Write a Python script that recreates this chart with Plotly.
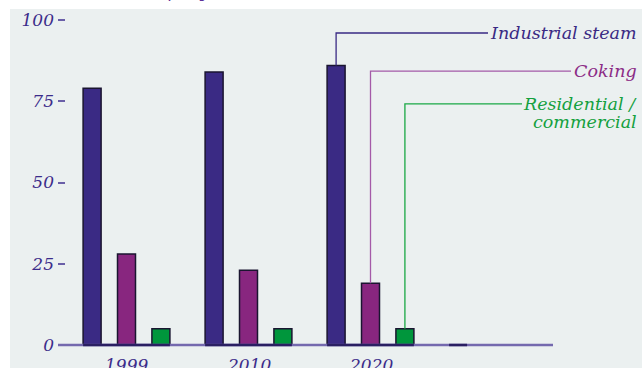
import plotly.graph_objects as go

# Coal consumption by end use (million short tons)
years = ["1999", "2010", "2020", ""]
industrial_steam = [79, 84, 86, 0]
coking = [28, 23, 19, None]
residential_commercial = [5, 5, 5, None]

series_names = ["Industrial steam", "Coking", "Residential /<br>commercial"]
series_values = [industrial_steam, coking, residential_commercial]
bar_colors = ["#3a2a84", "#88267f", "#00963c"]
text_colors = ["#3a2a84", "#8b2c86", "#14a03e"]
leader_colors = ["#3a2a84", "#a45aa8", "#1aa845"]

FONT = "DejaVu Serif"
AXIS_PURPLE = "#3b2c8a"
BG = "#ebf0f0"

W, H = 642, 368
L, R, T, B = 58, 0, 10, 10
x_range = [-0.5615, 4.2254]
y_range = [-4, 103.08]

# grouped-bar geometry (in category units)
bargap = 0.154
bargroupgap = 0.477
slot = (1 - bargap) / 3
half_bar = slot * (1 - bargroupgap) / 2

def bar_center(group, series):
    return group + (series - 1) * slot

fig = go.Figure()
for k, (name, vals) in enumerate(zip(series_names, series_values)):
    fig.add_trace(go.Bar(
        x=list(range(len(years))), y=vals, name=name,
        marker=dict(color=bar_colors[k], line=dict(color="#1a1530", width=1.5)),
        showlegend=False, hoverinfo="skip",
    ))

shapes = []
# background panel
shapes.append(dict(type="rect", xref="paper", yref="paper",
                   x0=(10 - L) / (W - L - R), x1=1.0,
                   y0=-0.05, y1=(H - B - 9) / (H - T - B),
                   fillcolor=BG, line=dict(width=0), layer="below"))
# baseline
axis_end = (553 - 126.5) / 122
shapes.append(dict(type="line", xref="x", yref="y", x0=x_range[0], x1=axis_end,
                   y0=0, y1=0, line=dict(color="#7469ae", width=2.5)))
# darker baseline under each group's bars
for g in range(len(years)):
    present = [k for k in range(3) if series_values[k][g] is not None]
    x0 = bar_center(g, present[0]) - half_bar
    x1 = bar_center(g, present[-1]) + half_bar
    shapes.append(dict(type="line", xref="x", yref="y", x0=x0, x1=x1,
                       y0=0, y1=0, line=dict(color="#2a1f62", width=2.5)))

# leader lines from the 2020 bars to the series labels
label_levels = [96.0, 84.3, 74.2]
line_ends = [(488 - 126.5) / 122, (571 - 126.5) / 122, (522 - 126.5) / 122]
g2020 = years.index("2020")
annotations = []
for k in range(3):
    xc = bar_center(g2020, k)
    top = series_values[k][g2020]
    lvl = label_levels[k]
    shapes.append(dict(type="path", xref="x", yref="y",
                       path=f"M {xc},{top} L {xc},{lvl} L {line_ends[k]},{lvl}",
                       line=dict(color=leader_colors[k], width=1.3)))

label_lines = [["Industrial steam"], ["Coking"], ["Residential /", "commercial"]]
for k in range(3):
    for j, txt in enumerate(label_lines[k]):
        annotations.append(dict(
            text=txt, xref="paper", yref="y", x=1.0, xshift=-3,
            y=label_levels[k], yshift=-18 * j, xanchor="right", yanchor="middle",
            showarrow=False,
            font=dict(family=FONT, size=17.5, color=text_colors[k], style="italic"),
        ))

# year labels under the middle bar of each group
for g, yr in enumerate(years):
    if yr:
        annotations.append(dict(
            text=yr, xref="x", yref="y", x=g, y=0, yshift=-20, xanchor="center",
            yanchor="middle", showarrow=False,
            font=dict(family=FONT, size=17, color=AXIS_PURPLE, style="italic"),
        ))

# units title at the top
annotations.append(dict(
    text="(million short tons per year)", xref="paper", yref="paper",
    x=(12 - L) / (W - L - R), y=(H - B - 8) / (H - T - B), yshift=5,
    xanchor="left", yanchor="bottom", showarrow=False,
    font=dict(family=FONT, size=16, color="#5b2f96", style="italic"),
))

fig.update_layout(
    width=W, height=H,
    margin=dict(l=L, r=R, t=T, b=B, pad=0),
    paper_bgcolor="white", plot_bgcolor=BG,
    barmode="group", bargap=bargap, bargroupgap=bargroupgap,
    shapes=shapes, annotations=annotations,
    xaxis=dict(range=x_range, visible=False, fixedrange=True),
    yaxis=dict(range=y_range, tickvals=[0, 25, 50, 75, 100],
               ticks="inside", ticklen=7, tickwidth=1.5, tickcolor="#6a5fa8",
               showgrid=False, zeroline=False, showline=False,
               ticklabelstandoff=3,
               tickfont=dict(family=FONT, size=17, color=AXIS_PURPLE, style="italic")),
)

fig.write_html("out.html")
